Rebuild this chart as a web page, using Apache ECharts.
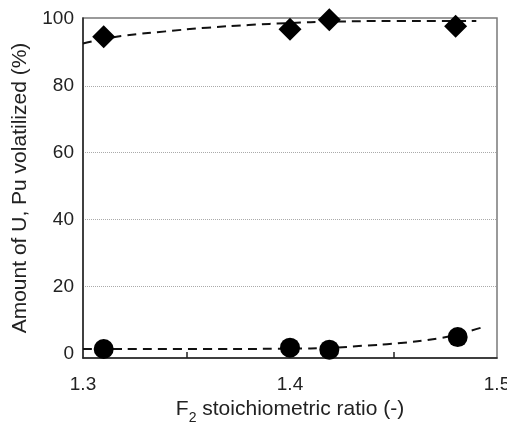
<!DOCTYPE html>
<html>
<head>
<meta charset="utf-8">
<script src="https://cdn.jsdelivr.net/npm/echarts@6/dist/echarts.min.js"></script>
<style>html,body{margin:0;padding:0;background:#fff}#c{width:507px;height:422px}</style>
</head>
<body>
<div id="c"></div>
<script>
// Measured points (F2 stoichiometric ratio, % volatilized)
const ratioU = [1.31, 1.40, 1.419, 1.48];
const volU = [94.7, 96.9, 99.8, 97.8];
const ratioPu = [1.31, 1.40, 1.419, 1.481];
const volPu = [1.3, 1.7, 1.1, 4.85];
// Dashed fitted curves
const fitUx = [1.30, 1.31, 1.32, 1.34, 1.36, 1.38, 1.40, 1.42, 1.45, 1.49];
const fitUy = [92.7, 94.0, 95.0, 96.3, 97.4, 98.2, 98.8, 99.2, 99.4, 99.4];
const fitPux = [1.30, 1.36, 1.40, 1.42, 1.435, 1.452, 1.4725, 1.483, 1.494];
const fitPuy = [1.3, 1.3, 1.4, 1.65, 2.25, 3.0, 4.55, 6.0, 8.0];
const xLabels = [1.3, 1.4, 1.5];
const xTicks = [1.35, 1.45];
const yLabels = [0, 20, 40, 60, 80, 100];
const yGrid = [20, 40, 60, 80];

const zip = (a, b) => a.map((v, i) => [v, b[i]]);
const font = 'Liberation Sans, Arial, sans-serif';

const chart = echarts.init(document.getElementById('c'), null, {renderer: 'canvas'});
chart.setOption({
  animation: false,
  backgroundColor: '#fff',
  grid: {left: 83, right: 10, top: 18, bottom: 64, show: true, outerBoundsMode: 'none', containLabel: false, borderColor: '#7a7a7a', borderWidth: 1.5, backgroundColor: 'transparent'},
  xAxis: {
    type: 'value', min: 1.3, max: 1.5,
    axisLine: {show: true, onZero: false, lineStyle: {color: '#222', width: 1.5}},
    axisTick: {show: true, inside: true, length: 6, customValues: xTicks, lineStyle: {color: '#222', width: 1.5}},
    axisLabel: {customValues: xLabels, margin: 17, fontSize: 19, color: '#222', fontFamily: font, formatter: v => v.toFixed(1)},
    splitLine: {show: false},
    name: '{a|F}{b|2}{a| stoichiometric ratio (-)}',
    nameLocation: 'middle', nameGap: 36,
    nameTextStyle: {
      rich: {
        a: {fontSize: 21, color: '#222', fontFamily: font},
        b: {fontSize: 14, color: '#222', fontFamily: font, verticalAlign: 'bottom', padding: [0, 0, -5, 0]}
      }
    }
  },
  yAxis: {
    type: 'value', min: -1.4, max: 100.3,
    axisLine: {show: true, lineStyle: {color: '#222', width: 1.5}},
    axisTick: {show: false, customValues: yGrid},
    axisLabel: {customValues: yLabels, margin: 9, fontSize: 19, color: '#222', fontFamily: font},
    splitLine: {show: true, lineStyle: {color: '#aaa', type: 'dotted', width: 1}},
    name: 'Amount of U, Pu volatilized (%)',
    nameLocation: 'middle', nameGap: 52,
    nameTextStyle: {fontSize: 21, color: '#222', fontFamily: font}
  },
  series: [
    {type: 'line', data: zip(fitUx, fitUy), smooth: true, symbol: 'none', lineStyle: {color: '#111', width: 2, type: [9, 6]}, z: 2},
    {type: 'line', data: zip(fitPux, fitPuy), smooth: true, symbol: 'none', lineStyle: {color: '#111', width: 2, type: [9, 6]}, z: 2},
    {type: 'scatter', data: zip(ratioU, volU), symbol: 'diamond', symbolSize: 23, itemStyle: {color: '#000', opacity: 1}, z: 5},
    {type: 'scatter', data: zip(ratioPu, volPu), symbol: 'circle', symbolSize: 20, itemStyle: {color: '#000', opacity: 1}, z: 5}
  ]
});
</script>
</body>
</html>
